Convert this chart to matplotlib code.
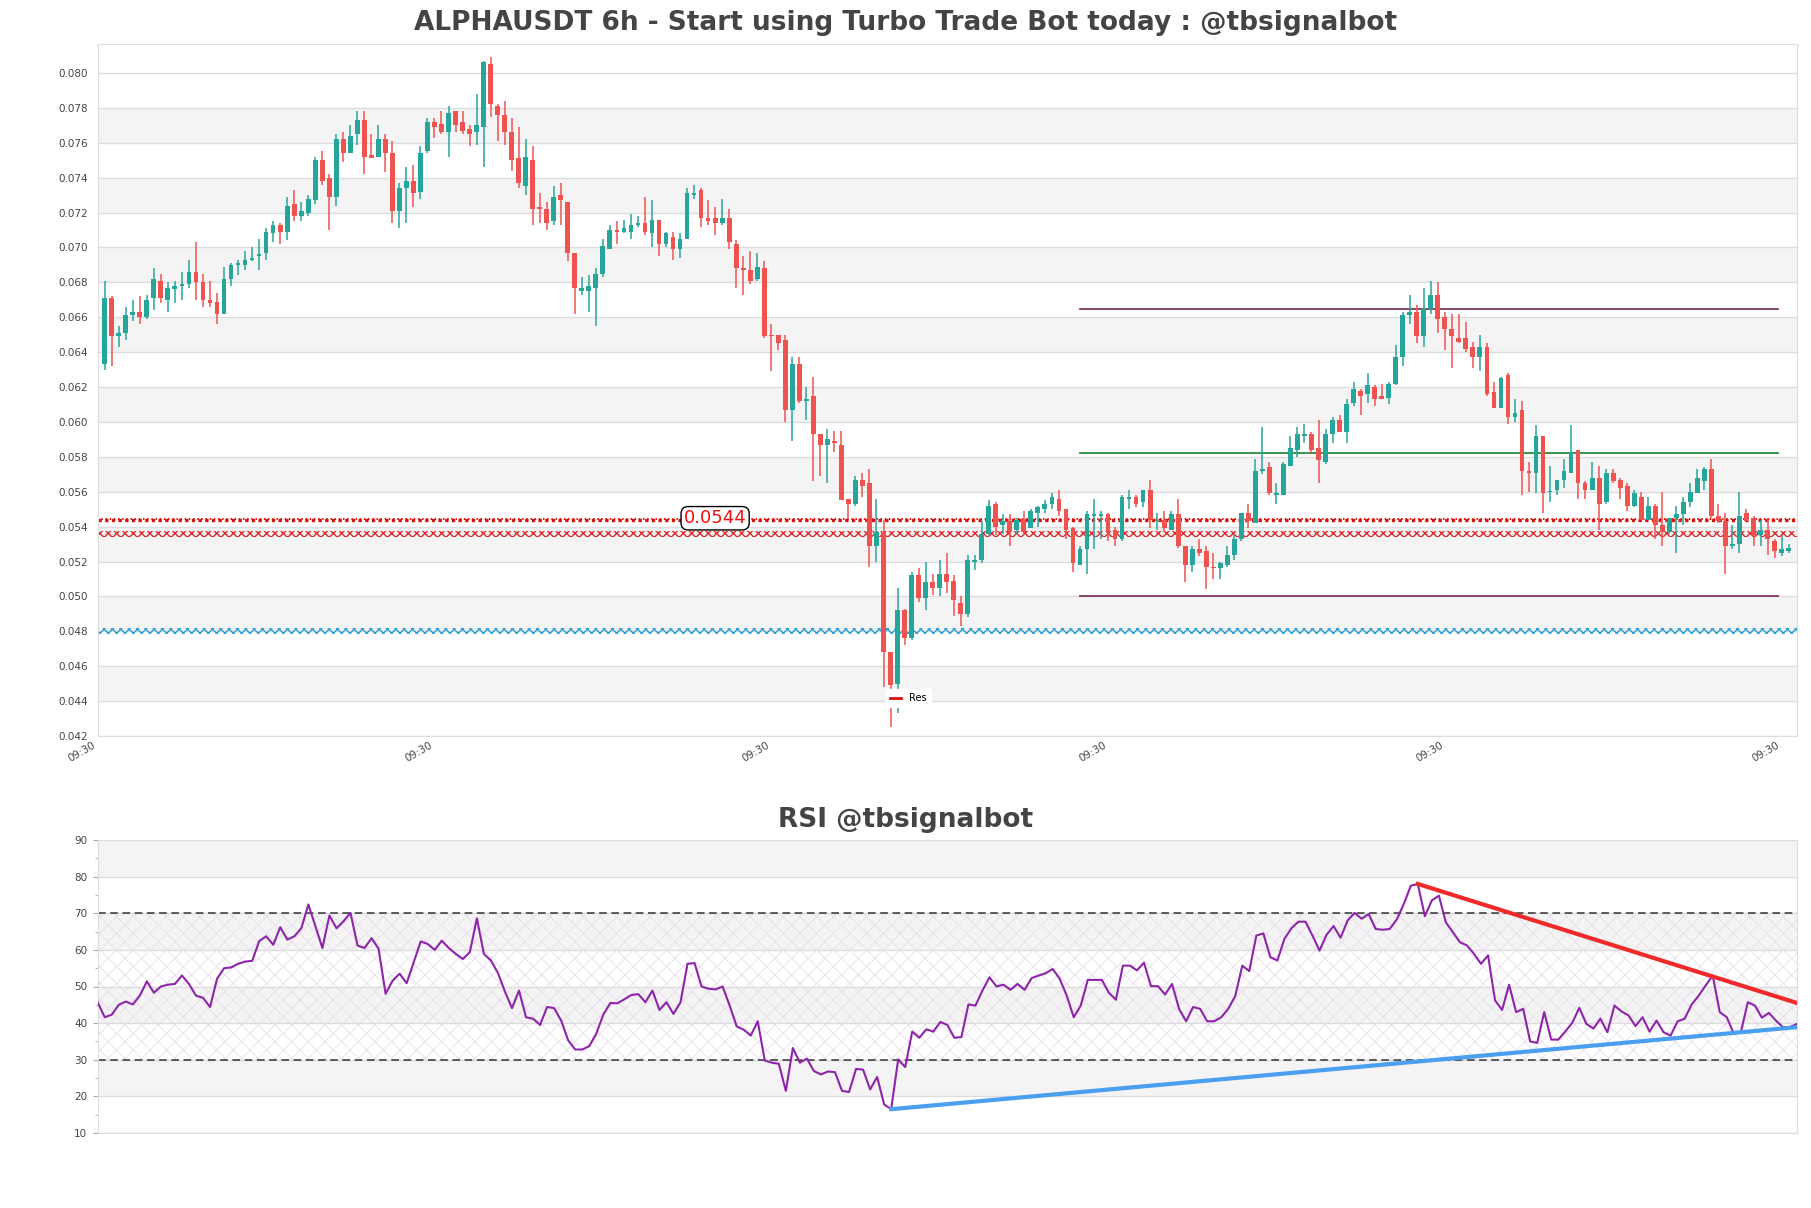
import numpy as np
import matplotlib
matplotlib.use('Agg')
import matplotlib.pyplot as plt
from matplotlib.lines import Line2D

opens = [.0633,.0671,.0649,.0651,.0661,.0663,.0660,.0671,.0681,.0670,
.0676,.0678,.0679,.0686,.0680,.0670,.0669,.0662,.0682,.0690,
.0690,.0693,.0695,.0697,.0708,.0713,.0709,.0725,.0718,.0720,
.0727,.0750,.0740,.0729,.0762,.0754,.0765,.0773,.0753,.0752,
.0762,.0754,.0721,.0734,.0738,.0732,.0755,.0772,.0771,.0766,
.0778,.0772,.0768,.0766,.0769,.0805,.0781,.0776,.0766,.0751,
.0735,.0750,.0723,.0722,.0715,.0730,.0726,.0697,.0675,.0675,
.0677,.0685,.0699,.0710,.0709,.0709,.0713,.0714,.0708,.0716,
.0702,.0706,.0699,.0705,.0730,.0733,.0717,.0717,.0714,.0717,
.0702,.0688,.0687,.0682,.0688,.0650,.0650,.0647,.0607,.0633,
.0612,.0615,.0593,.0587,.0589,.0587,.0556,.0553,.0567,.0565,
.0529,.0537,.0468,.0450,.0492,.0476,.0512,.0499,.0508,.0505,
.0513,.0509,.0496,.0490,.0520,.0521,.0536,.0553,.0541,.0543,
.0538,.0544,.0539,.0548,.0550,.0553,.0556,.0550,.0539,.0518,
.0527,.0546,.0546,.0547,.0538,.0533,.0556,.0557,.0554,.0561,
.0543,.0544,.0538,.0547,.0529,.0518,.0527,.0526,.0517,.0516,
.0518,.0524,.0533,.0548,.0542,.0572,.0574,.0558,.0558,.0575,
.0584,.0592,.0593,.0585,.0577,.0593,.0601,.0594,.0611,.0618,
.0616,.0620,.0615,.0614,.0622,.0637,.0661,.0663,.0649,.0665,
.0673,.0660,.0653,.0648,.0648,.0643,.0637,.0643,.0617,.0608,
.0627,.0603,.0607,.0572,.0571,.0592,.0560,.0561,.0567,.0571,
.0584,.0565,.0561,.0568,.0554,.0571,.0567,.0563,.0552,.0557,
.0544,.0552,.0541,.0537,.0545,.0547,.0554,.0559,.0566,.0573,
.0546,.0543,.0529,.0530,.0548,.0545,.0535,.0538,.0532,.0525,
.0526]

highs = [.0681,.0672,.0655,.0666,.0670,.0672,.0673,.0688,.0685,.0680,
.0681,.0686,.0693,.0703,.0685,.0681,.0674,.0689,.0691,.0693,
.0698,.0700,.0705,.0711,.0715,.0714,.0729,.0733,.0726,.0730,
.0752,.0755,.0742,.0765,.0766,.0770,.0778,.0778,.0765,.0770,
.0765,.0761,.0737,.0746,.0747,.0758,.0774,.0774,.0778,.0781,
.0778,.0778,.0770,.0788,.0807,.0809,.0782,.0784,.0774,.0769,
.0762,.0758,.0731,.0726,.0735,.0737,.0726,.0697,.0683,.0684,
.0688,.0705,.0713,.0715,.0716,.0719,.0718,.0729,.0727,.0716,
.0709,.0709,.0708,.0734,.0736,.0734,.0727,.0723,.0728,.0722,
.0704,.0695,.0698,.0697,.0692,.0656,.0650,.0650,.0637,.0637,
.0620,.0626,.0593,.0596,.0595,.0595,.0556,.0569,.0571,.0573,
.0556,.0544,.0468,.0505,.0493,.0514,.0516,.0520,.0513,.0521,
.0525,.0512,.0500,.0524,.0524,.0543,.0555,.0554,.0547,.0547,
.0545,.0549,.0550,.0552,.0555,.0559,.0561,.0550,.0540,.0529,
.0549,.0556,.0549,.0548,.0540,.0558,.0561,.0558,.0561,.0567,
.0548,.0549,.0549,.0556,.0529,.0529,.0533,.0529,.0525,.0520,
.0529,.0535,.0548,.0553,.0579,.0597,.0577,.0565,.0577,.0592,
.0597,.0599,.0594,.0601,.0596,.0603,.0604,.0613,.0623,.0619,
.0628,.0621,.0622,.0623,.0644,.0663,.0673,.0667,.0677,.0681,
.0680,.0663,.0662,.0662,.0657,.0646,.0650,.0645,.0623,.0626,
.0628,.0613,.0612,.0577,.0598,.0592,.0575,.0567,.0579,.0598,
.0584,.0566,.0577,.0575,.0573,.0573,.0568,.0565,.0561,.0560,
.0557,.0553,.0560,.0545,.0552,.0557,.0565,.0573,.0574,.0579,
.0553,.0548,.0541,.0560,.0550,.0546,.0544,.0545,.0533,.0535,
.0530]

lows = [.0630,.0632,.0643,.0647,.0658,.0656,.0659,.0664,.0668,.0663,
.0668,.0670,.0677,.0670,.0666,.0666,.0656,.0662,.0678,.0684,
.0687,.0692,.0687,.0693,.0703,.0702,.0704,.0715,.0715,.0718,
.0725,.0736,.0710,.0724,.0749,.0754,.0759,.0742,.0751,.0752,
.0743,.0714,.0711,.0714,.0723,.0728,.0754,.0763,.0765,.0752,
.0766,.0765,.0758,.0759,.0746,.0775,.0761,.0759,.0744,.0734,
.0730,.0713,.0714,.0710,.0713,.0713,.0692,.0662,.0673,.0663,
.0655,.0683,.0699,.0702,.0708,.0705,.0712,.0707,.0700,.0695,
.0700,.0693,.0694,.0705,.0728,.0712,.0713,.0707,.0713,.0699,
.0677,.0673,.0679,.0681,.0648,.0629,.0641,.0600,.0589,.0611,
.0601,.0566,.0569,.0565,.0583,.0555,.0545,.0552,.0557,.0517,
.0520,.0448,.0425,.0433,.0472,.0475,.0497,.0492,.0501,.0500,
.0502,.0489,.0483,.0488,.0515,.0519,.0535,.0535,.0536,.0529,
.0535,.0535,.0539,.0540,.0548,.0550,.0546,.0533,.0514,.0518,
.0513,.0527,.0533,.0532,.0529,.0532,.0550,.0551,.0551,.0539,
.0538,.0537,.0538,.0528,.0508,.0514,.0523,.0504,.0510,.0510,
.0517,.0521,.0532,.0539,.0542,.0570,.0558,.0553,.0558,.0575,
.0580,.0588,.0582,.0565,.0576,.0588,.0594,.0588,.0609,.0604,
.0611,.0609,.0613,.0610,.0621,.0632,.0656,.0645,.0643,.0662,
.0651,.0641,.0631,.0645,.0640,.0631,.0629,.0615,.0608,.0608,
.0599,.0600,.0558,.0560,.0559,.0548,.0554,.0558,.0562,.0571,
.0556,.0556,.0561,.0538,.0553,.0565,.0556,.0549,.0551,.0544,
.0544,.0533,.0529,.0536,.0525,.0541,.0551,.0559,.0561,.0545,
.0542,.0513,.0527,.0525,.0543,.0529,.0529,.0524,.0522,.0523,
.0525]

closes = [.0671,.0649,.0651,.0661,.0663,.0660,.0670,.0682,.0671,.0677,
.0678,.0679,.0686,.0680,.0670,.0668,.0662,.0682,.0690,.0691,
.0693,.0694,.0696,.0709,.0713,.0709,.0724,.0718,.0721,.0728,
.0750,.0738,.0729,.0762,.0754,.0764,.0773,.0752,.0751,.0762,
.0754,.0721,.0734,.0738,.0731,.0754,.0772,.0769,.0766,.0777,
.0770,.0767,.0765,.0770,.0806,.0782,.0776,.0766,.0750,.0737,
.0752,.0722,.0722,.0714,.0729,.0727,.0697,.0677,.0677,.0678,
.0685,.0701,.0710,.0709,.0711,.0713,.0714,.0709,.0716,.0702,
.0708,.0699,.0705,.0731,.0731,.0717,.0715,.0714,.0717,.0703,
.0688,.0687,.0681,.0689,.0649,.0649,.0645,.0607,.0633,.0612,
.0613,.0593,.0587,.0590,.0588,.0555,.0553,.0567,.0563,.0529,
.0537,.0468,.0449,.0492,.0476,.0512,.0499,.0508,.0505,.0513,
.0508,.0498,.0490,.0521,.0521,.0536,.0552,.0540,.0543,.0537,
.0544,.0537,.0549,.0551,.0553,.0557,.0549,.0538,.0519,.0527,
.0547,.0547,.0547,.0537,.0533,.0557,.0557,.0553,.0561,.0544,
.0544,.0539,.0547,.0529,.0518,.0527,.0525,.0517,.0516,.0519,
.0524,.0533,.0548,.0543,.0572,.0573,.0559,.0559,.0576,.0585,
.0593,.0593,.0584,.0578,.0593,.0601,.0594,.0610,.0619,.0615,
.0621,.0613,.0613,.0622,.0637,.0661,.0663,.0649,.0665,.0673,
.0659,.0653,.0649,.0646,.0642,.0637,.0643,.0616,.0608,.0625,
.0603,.0605,.0572,.0571,.0592,.0559,.0560,.0567,.0572,.0583,
.0565,.0561,.0568,.0553,.0571,.0566,.0562,.0552,.0559,.0544,
.0552,.0541,.0537,.0545,.0547,.0554,.0560,.0568,.0573,.0546,
.0543,.0529,.0530,.0546,.0543,.0535,.0538,.0533,.0526,.0527,
.0528]

rsi = [45.7, 41.6, 42.3, 45.0, 45.9, 45.1, 47.5, 51.4, 48.3, 50.0,
50.5, 50.7, 53.0, 50.7, 47.5, 46.9, 44.4, 52.1, 55.0, 55.2,
56.2, 56.8, 57.0, 62.4, 63.7, 61.4, 66.2, 62.8, 63.7, 65.9,
72.4, 66.5, 60.5, 69.4, 65.9, 67.8, 70.1, 61.2, 60.5, 63.2,
60.3, 48.0, 51.6, 53.5, 50.9, 56.6, 62.3, 61.6, 60.0, 62.5,
60.5, 58.9, 57.5, 59.4, 68.6, 58.9, 57.1, 53.7, 48.6, 44.1,
48.9, 41.6, 41.2, 39.5, 44.4, 44.1, 40.7, 35.3, 32.8, 32.8,
33.7, 37.1, 42.3, 45.5, 45.4, 46.5, 47.7, 47.9, 45.7, 48.9,
43.6, 45.7, 42.5, 45.7, 56.2, 56.4, 50.0, 49.4, 49.2, 50.0,
44.8, 39.1, 38.2, 36.6, 40.5, 29.8, 29.2, 28.9, 21.5, 33.2,
29.2, 30.3, 26.9, 26.0, 26.8, 26.6, 21.5, 21.2, 27.5, 27.3,
21.9, 25.3, 17.8, 16.5, 30.1, 28.0, 37.7, 36.0, 38.3, 37.7,
40.3, 39.5, 36.0, 36.2, 45.1, 44.8, 48.9, 52.5, 50.0, 50.5,
49.1, 50.7, 49.1, 52.3, 53.0, 53.6, 54.8, 52.1, 47.5, 41.6,
44.8, 51.8, 51.8, 51.8, 48.3, 46.4, 55.7, 55.7, 54.4, 56.5,
50.1, 50.1, 47.8, 50.7, 43.9, 40.5, 44.4, 43.9, 40.5, 40.5,
41.6, 43.9, 47.4, 55.7, 54.2, 63.9, 64.5, 58.0, 57.1, 63.0,
65.9, 67.7, 67.7, 63.9, 59.8, 64.1, 66.5, 63.3, 68.0, 70.1,
68.5, 69.8, 65.7, 65.5, 65.7, 68.3, 72.5, 77.5, 78.0, 69.2,
73.5, 74.8, 67.5, 64.8, 62.1, 61.2, 58.9, 56.2, 58.5, 46.2,
43.6, 50.5, 43.0, 43.9, 35.0, 34.6, 43.0, 35.5, 35.5, 37.7,
40.1, 44.2, 39.8, 38.5, 41.2, 37.5, 44.8, 43.2, 42.1, 39.2,
41.6, 37.7, 40.7, 37.5, 36.6, 40.5, 41.2, 45.1, 47.5, 50.3,
53.0, 43.0, 41.6, 37.1, 37.5, 45.7, 44.8, 41.5, 42.8, 40.7,
38.9, 38.9, 39.8]

x_tick_pos = [0, 48, 96, 144, 192, 240]
x_tick_labels = ['09:30'] * 6

res_level = 0.0544
res_zone_level = 0.0536
sup_zone_level = 0.0480
range_levels = [0.0665, 0.0582, 0.0500]
range_colors = ['#7d3a5c', '#2a8c3e', '#7d3a5c']
range_start, range_end = 140, 239.5
label_x = 88

rsi_res_x = [188, 242]
rsi_res_y = [78.0, 45.5]
rsi_sup_x = [113, 242]
rsi_sup_y = [16.5, 38.9]


def set_hlw(artist, w):
    try:
        artist.set_hatch_linewidth(w)
    except AttributeError:
        pass


plt.rcParams['hatch.linewidth'] = 0.9

W, H = 1811, 1208
fig = plt.figure(figsize=(W / 100, H / 100), dpi=100)
ax = fig.add_axes([97.7 / W, 1 - 736 / H, (1797 - 97.7) / W, (736 - 44) / H])
ax2 = fig.add_axes([97.7 / W, 1 - 1133 / H, (1797 - 97.7) / W, (1133 - 840) / H])

o = np.array(opens); h = np.array(highs); l = np.array(lows); c = np.array(closes)
n = len(o)
xs = np.arange(1, n + 1)
up = c >= o
green, red = '#26a69a', '#ef5350'
cols = np.where(up, green, red)

xmax = 242.2
ymin, ymax = 0.042, 0.08166

# background bands
for lo in np.arange(0.044, 0.0795, 0.004):
    ax.axhspan(lo, lo + 0.002, color='#f4f4f4', zorder=0, lw=0)
ax.set_yticks(np.arange(0.042, 0.0805, 0.002))
ax.yaxis.grid(True, color='#dcdcdc', lw=1, zorder=0.5)
ax.set_axisbelow(True)

# candles
lo_w = np.minimum(l, np.minimum(o, c))
hi_w = np.maximum(h, np.maximum(o, c))
ax.vlines(xs, lo_w, hi_w, colors=cols, lw=1.1, zorder=3)
bh = np.maximum(np.abs(c - o), 0.00004)
ax.bar(xs, bh, bottom=np.minimum(o, c), width=0.68, color=cols, zorder=4, lw=0)

# level lines
band = 0.00017
p1 = ax.fill_between([0, xmax], res_zone_level - band, res_zone_level + band, facecolor='none',
                     edgecolor='#e0262a', hatch='xxxx', lw=0, zorder=2)
p2 = ax.fill_between([0, xmax], sup_zone_level - band, sup_zone_level + band, facecolor='none',
                     edgecolor='#2a9fd8', hatch='xxxx', lw=0, zorder=2)
ax.plot([0, xmax], [res_level, res_level], color='#d8140f', lw=2.4, ls=(0, (1, 1)), zorder=2)
p3 = ax.fill_between([0, xmax], res_level, res_level + 0.00012, facecolor='none',
                     edgecolor='#d8140f', hatch='||||', lw=0, zorder=2)
for p in (p1, p2, p3):
    set_hlw(p, 1.0)
for lv, col in zip(range_levels, range_colors):
    ax.plot([range_start, range_end], [lv, lv], color=col, lw=1.3, zorder=2)

ax.text(label_x, res_level + 0.00008, '%.4f' % res_level, color='#ee1111', fontsize=13,
        ha='center', va='center', zorder=6,
        bbox=dict(boxstyle='round,pad=0.15,rounding_size=0.4', fc='white', ec='black', lw=1))

leg = ax.legend(handles=[Line2D([0], [0], color='#dd1111', lw=2)], labels=['Res'],
                loc='lower center', bbox_to_anchor=(0.477, 0.035), fontsize=7,
                frameon=True, framealpha=1, edgecolor='white', handlelength=1.2)
leg.set_zorder(7)

ax.set_xlim(0, xmax)
ax.set_ylim(ymin, ymax)
ax.yaxis.set_major_formatter(matplotlib.ticker.FormatStrFormatter('%.3f'))
ax.tick_params(axis='y', length=0, pad=7, labelsize=7.5, labelcolor='#444444')
ax.set_xticks(x_tick_pos)
ax.set_xticklabels(x_tick_labels, rotation=30, ha='right')
ax.tick_params(axis='x', length=0, pad=3, labelsize=7.5, labelcolor='#444444')
for s in ax.spines.values():
    s.set_color('#dddddd')

# RSI panel
r = np.array(rsi)
rx = np.arange(len(r))
for lo in [20, 40, 60, 80]:
    ax2.axhspan(lo, lo + 10, color='#f4f4f4', zorder=0, lw=0)
p4 = ax2.fill_between([0, xmax], 30, 70, facecolor='none', edgecolor='#e6dded', hatch='xx', lw=0, zorder=0.6)
set_hlw(p4, 0.6)
ax2.set_yticks(np.arange(10, 91, 10))
ax2.set_yticks(np.arange(15, 90, 10), minor=True)
ax2.yaxis.grid(True, which='major', color='#dcdcdc', lw=1, zorder=0.5)
ax2.set_axisbelow(True)
ax2.axhline(70, color='#333333', lw=1.1, ls=(0, (5, 3)), zorder=2)
ax2.axhline(30, color='#333333', lw=1.1, ls=(0, (5, 3)), zorder=2)
ax2.plot(rx, r, color='#8e24aa', lw=1.5, zorder=3)
ax2.plot(rsi_res_x, rsi_res_y, color='#f02a2a', lw=3, zorder=4)
ax2.plot(rsi_sup_x, rsi_sup_y, color='#4aa0ee', lw=3, zorder=4)
ax2.set_xlim(0, len(r) - 1)
ax2.set_ylim(10, 90)
ax2.set_xticks([])
ax2.tick_params(axis='y', which='major', length=3.5, color='#aaaaaa', pad=4, labelsize=7.5, labelcolor='#444444')
ax2.tick_params(axis='y', which='minor', length=2.5, color='#aaaaaa')
for s in ax2.spines.values():
    s.set_color('#dddddd')

fig.text(0.5, 1 - 23 / H, 'ALPHAUSDT 6h - Start using Turbo Trade Bot today : @tbsignalbot',
         ha='center', va='center', fontsize=19, fontweight='bold', color='#444444')
fig.text(0.5, 1 - 820 / H, 'RSI @tbsignalbot', ha='center', va='center', fontsize=19,
         fontweight='bold', color='#444444')

fig.savefig('out.png', dpi=100)
